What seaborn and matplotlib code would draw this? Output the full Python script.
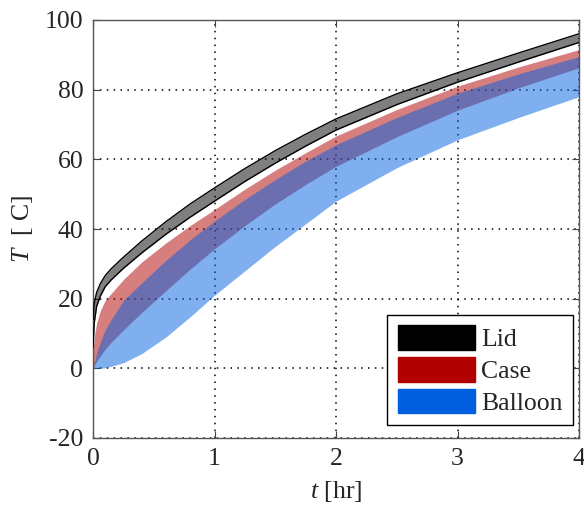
import numpy as np
import pandas as pd
import matplotlib
matplotlib.use("Agg")
import matplotlib.pyplot as plt
import seaborn as sns
from matplotlib.patches import Patch

# ---- data ----
t = [0, 0.01, 0.03, 0.06, 0.1, 0.15, 0.25, 0.4, 0.6, 0.8, 1.0, 1.25, 1.5, 1.75, 2.0, 2.5, 3.0, 3.5, 4.0]
lid_upper = [14, 18.6, 21.8, 24.3, 26.6, 28.6, 31.9, 36.5, 42.1, 47.2, 51.8, 57.35, 62.5, 67.2, 71.6, 78.8, 84.85, 90.5, 96.05]
lid_lower = [6, 13, 17.8, 20.7, 23.4, 25.4, 28.7, 33.1, 38.5, 43.4, 48, 53.65, 58.9, 63.8, 68.4, 75.7, 82.15, 87.9, 93.55]
case_upper = [5, 9, 13, 16.5, 19.5, 21.5, 25.5, 30.5, 36, 41, 45.6, 51.45, 56.9, 61.9, 66.7, 74.3, 81, 86.5, 91.5]
case_lower = [0, 0.8, 2, 3.5, 5.5, 7.5, 11, 16, 22.3, 28.5, 34.3, 41, 47.2, 52.8, 58, 66.5, 74.1, 80.5, 86.3]
balloon_upper = [0, 1.5, 4.5, 7.5, 11, 14, 19.5, 24.5, 31, 36.9, 42.3, 48.5, 54.2, 59.5, 64.2, 72, 79, 84.5, 89.5]
balloon_lower = [0, 0, 0, 0, 0.2, 0.6, 1.6, 4.2, 9.0, 14.8, 21, 28, 35, 41.5, 48, 57.6, 65.6, 72, 78]

series_names = ["Lid", "Case", "Balloon"]
series_colors = ["#000000", "#b00000", "#0060e0"]
x_ticks = [0, 1, 2, 3, 4]
y_ticks = [-20, 0, 20, 40, 60, 80, 100]

sns.set_style("ticks")
plt.rcParams["font.family"] = ["Liberation Serif", "DejaVu Serif"]
plt.rcParams["mathtext.fontset"] = "custom"
plt.rcParams["mathtext.rm"] = "Liberation Serif"
plt.rcParams["mathtext.it"] = "Liberation Serif:italic"

FS = 18.5
fig = plt.figure(figsize=(5.84, 5.05), dpi=100)
ax = fig.add_axes([93 / 584, 67 / 505, 486 / 584, 418 / 505])

df = pd.DataFrame({"t": t, "lid_u": lid_upper, "lid_l": lid_lower})

bands = [
    (lid_lower, lid_upper, series_colors[0]),
    (case_lower, case_upper, series_colors[1]),
    (balloon_lower, balloon_upper, series_colors[2]),
]
for lo, hi, c in bands:
    ax.fill_between(t, lo, hi, color=c, alpha=0.5, linewidth=0, zorder=2)

sns.lineplot(data=df, x="t", y="lid_u", color="black", linewidth=1.0, ax=ax, zorder=3)
sns.lineplot(data=df, x="t", y="lid_l", color="black", linewidth=1.0, ax=ax, zorder=3)

ax.set_xlim(0, 4)
ax.set_ylim(-20, 100)
ax.set_xticks(x_ticks)
ax.set_yticks(y_ticks)
ax.set_xticklabels([str(v) for v in x_ticks])
ax.set_yticklabels([str(v) for v in y_ticks])
ax.tick_params(direction="in", length=5, width=0.8, labelsize=FS, color="#444444",
               top=True, right=True, pad=7)
for s in ax.spines.values():
    s.set_color("#555555")
    s.set_linewidth(1.0)
ax.grid(True, linestyle=(0, (1, 3.5)), color="black", linewidth=1.1, zorder=1)
ax.set_axisbelow(True)

ax.set_xlabel("$t$ [hr]", fontsize=FS, labelpad=7)
ax.set_ylabel("$T$  [ C]", fontsize=FS, labelpad=7)

handles = [Patch(facecolor=c, edgecolor=c, label=n) for n, c in zip(series_names, series_colors)]
leg = ax.legend(handles=handles, loc="lower right", bbox_to_anchor=(0.9877, 0.031),
                fontsize=FS, frameon=True, fancybox=False,
                edgecolor="black", framealpha=1, handlelength=3.0, handleheight=1.1,
                handletextpad=0.25, borderaxespad=0.0, labelspacing=0.22, borderpad=0.4)
leg.get_frame().set_linewidth(1.0)

fig.savefig("out.png", dpi=100)
